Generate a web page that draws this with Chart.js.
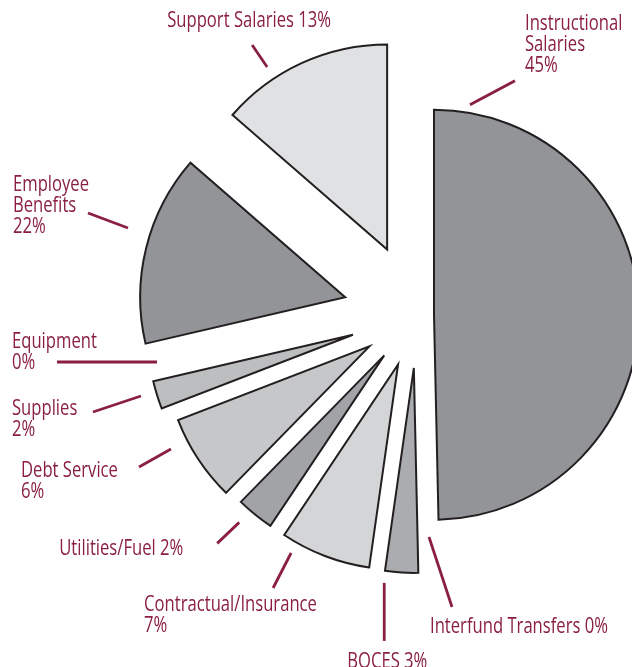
<!DOCTYPE html>
<html>
<head>
<meta charset="utf-8">
<title>Expenditures</title>
<script src="https://cdn.jsdelivr.net/npm/chart.js@4/dist/chart.umd.min.js"></script>
<style>
  html, body { margin: 0; padding: 0; background: #fff; overflow: hidden; }
  #wrap { width: 632px; height: 667px; }
</style>
</head>
<body>
<div id="wrap"><canvas id="expenseChart" width="632" height="667"></canvas></div>
<script>
// Categories, clockwise from the top
const categories = [
  "Instructional Salaries",
  "Interfund Transfers",
  "BOCES",
  "Contractual/Insurance",
  "Utilities/Fuel",
  "Debt Service",
  "Supplies",
  "Equipment",
  "Employee Benefits",
  "Support Salaries"
];

// Printed percentages
const pctLabels = ["45%", "0%", "3%", "7%", "2%", "6%", "2%", "0%", "22%", "13%"];

// Slice shares as drawn in the picture (percent of the circle)
const shares = [49.65, 0, 2.6, 7.12, 2.96, 6.81, 2.22, 0, 15.03, 13.61];

// Styling per slice
const sliceColors = [
  "#929497", "#929497", "#abacaf", "#d4d5d7", "#a2a3a6",
  "#c6c7c9", "#bdbec0", "#bdbec0", "#929497", "#e0e1e3"
];
const explode = [17, 0, 53, 53, 52, 57, 67, 0, 74, 72];

// Leader line (relative to the slice's tip) and text offset (relative to line end)
const labelLayout = [
  { lead: [36, -210, 81, -234], text: [10, -51], wrap: "stack" },
  { lead: [12, 222, 35, 292], text: [-22, 26], wrap: "inline" },
  { lead: [-29.6, 215, -29.6, 273], text: [-37, 27], wrap: "inline" },
  { lead: [-107, 188.5, -125, 223.5], text: [-129, 23], wrap: "two" },
  { lead: [-145, 167, -167, 188], text: [-158, 12], wrap: "inline" },
  { lead: [-198.4, 102.7, -230.4, 120.7], text: [-118, 10], wrap: "two" },
  { lead: [-212, 61.3, -260, 77.3], text: [-81, 3], wrap: "two" },
  { lead: [-260, 47, -360, 47], text: [-45, -14], wrap: "two" },
  { lead: [-217.2, -69.2, -257.2, -84.2], text: [-75, -22], wrap: "stack" },
  { lead: [-120, -182.5, -135, -204.5], text: [-85, -18], wrap: "inline" }
];

const labelColor = "#8a1f43";
const labelFont = '21px "Open Sans", "Noto Sans", "Liberation Sans", sans-serif';
const lineHeight = 21;
// the original face is condensed; squeeze the text to the same width
const refText = "Interfund Transfers 0%";
const refWidth = 178;

const textLines = i => {
  const name = categories[i];
  const pct = pctLabels[i];
  const wrap = labelLayout[i].wrap;
  if (wrap === "inline") return [`${name} ${pct}`];
  if (wrap === "two") return [name, pct];
  return [...name.split(" "), pct];
};

// Pull each slice out along its bisector
const explodePlugin = {
  id: "explode",
  afterDatasetsUpdate(chart) {
    const meta = chart.getDatasetMeta(0);
    meta.data.forEach((arc, i) => {
      const mid = (arc.startAngle + arc.endAngle) / 2;
      arc.x += Math.cos(mid) * explode[i];
      arc.y += Math.sin(mid) * explode[i];
    });
  }
};

// Leader lines and text
const calloutPlugin = {
  id: "callouts",
  afterDatasetsDraw(chart) {
    const { ctx } = chart;
    const meta = chart.getDatasetMeta(0);
    ctx.save();
    ctx.strokeStyle = labelColor;
    ctx.fillStyle = labelColor;
    ctx.lineWidth = 2.8;
    ctx.lineCap = "butt";
    ctx.font = labelFont;
    ctx.textAlign = "left";
    ctx.textBaseline = "alphabetic";
    const sx = Math.min(1, refWidth / ctx.measureText(refText).width);
    meta.data.forEach((arc, i) => {
      const lay = labelLayout[i];
      const [x1, y1, x2, y2] = lay.lead;
      const ex = arc.x + x2;
      const ey = arc.y + y2;
      ctx.beginPath();
      ctx.moveTo(arc.x + x1, arc.y + y1);
      ctx.lineTo(ex, ey);
      ctx.stroke();
      textLines(i).forEach((line, k) => {
        ctx.save();
        ctx.translate(ex + lay.text[0], ey + lay.text[1] + k * lineHeight);
        ctx.scale(sx, 1);
        ctx.fillText(line, 0, 0);
        ctx.restore();
      });
    });
    ctx.restore();
  }
};

new Chart(document.getElementById("expenseChart"), {
  type: "pie",
  data: {
    labels: categories,
    datasets: [{
      data: shares,
      backgroundColor: sliceColors,
      borderColor: "#231f20",
      borderWidth: 2,
      borderJoinStyle: "miter",
      clip: false
    }]
  },
  options: {
    responsive: false,
    animation: false,
    radius: 205,
    layout: { padding: { left: 202, right: 0, top: 0, bottom: 37 } },
    plugins: {
      legend: { display: false },
      tooltip: { enabled: false }
    },
    events: []
  },
  plugins: [explodePlugin, calloutPlugin]
});
</script>
</body>
</html>
